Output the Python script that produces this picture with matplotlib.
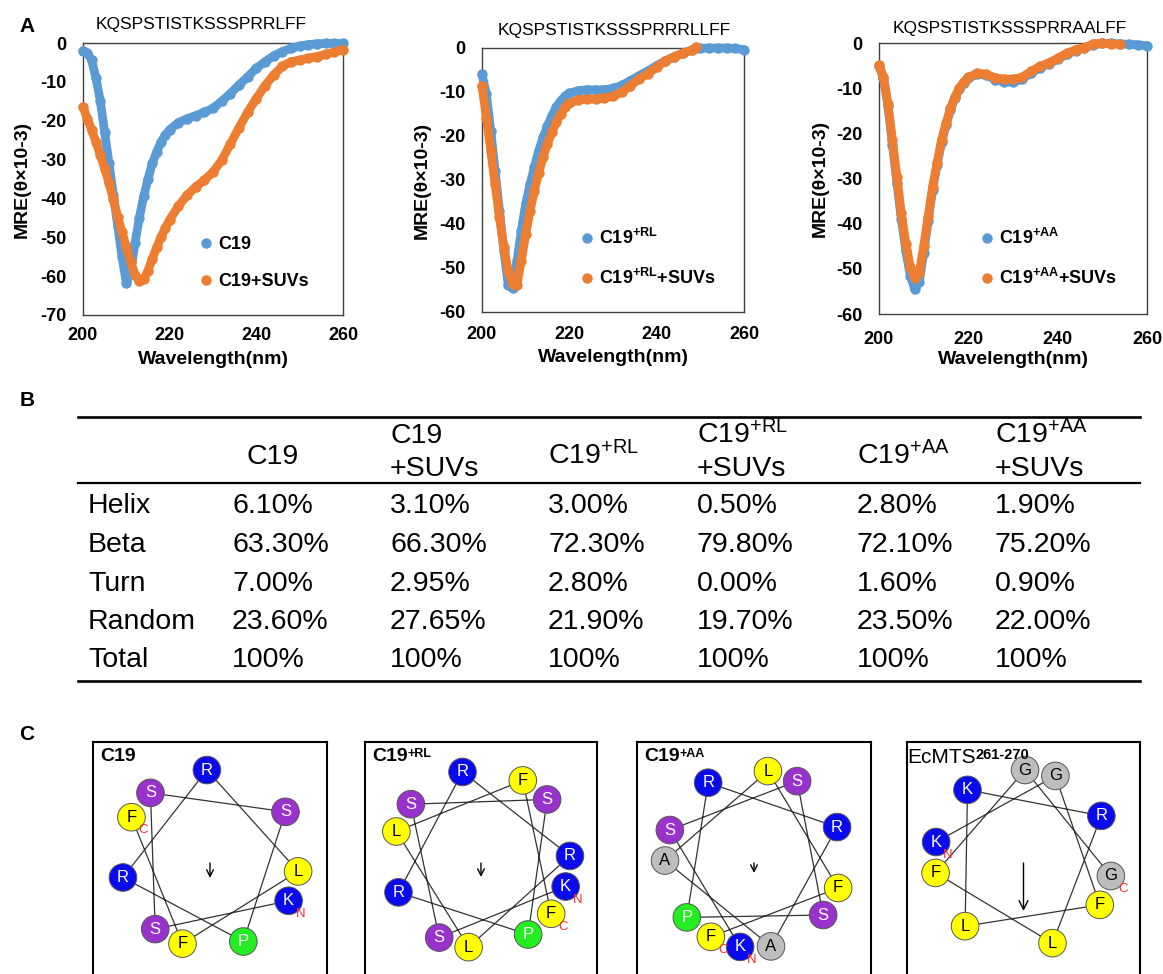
import numpy as np
import matplotlib
matplotlib.use("Agg")
import matplotlib.pyplot as plt
from matplotlib.lines import Line2D
from matplotlib.patches import Circle

plt.rcParams['font.family'] = ['Liberation Sans', 'DejaVu Sans']
plt.rcParams['mathtext.default'] = 'regular'
plt.rcParams['axes.unicode_minus'] = False

# ---------------- Panel A data (CD spectra, MRE x10^-3) ----------------
wl = [200, 201, 202, 203, 204, 205, 206, 207, 208, 209, 210, 211, 212, 213, 214, 215,
      216, 217, 218, 219, 220, 222, 224, 226, 228, 230, 232, 234, 236, 238, 240, 242,
      244, 246, 248, 250, 252, 254, 256, 258, 260]
c19 = [-2.0, -2.5, -4.5, -9.0, -15.0, -23.0, -31.0, -39.0, -47.0, -55.0, -61.8, -59.0,
       -51.5, -45.0, -39.5, -35.0, -31.0, -28.0, -25.5, -23.8, -22.3,
       -20.5, -19.5, -18.7, -17.8, -16.8, -15.0, -13.0, -10.8, -8.7, -6.5, -4.8, -3.3,
       -2.2, -1.4, -0.8, -0.4, -0.2, -0.1, -0.1, -0.1]
c19_suv = [-16.4, -19.5, -22.4, -25.5, -28.8, -32.3, -36.0, -40.2, -44.7, -48.7, -52.4,
           -56.3, -59.7, -61.3, -60.8, -58.6, -55.5, -52.6, -50.0, -47.6, -45.5,
           -42.0, -39.2, -37.0, -35.3, -33.2, -30.2, -26.0, -21.8, -17.8, -14.3, -11.0,
           -8.2, -6.0, -4.8, -4.4, -3.9, -3.5, -2.9, -2.3, -1.7]
rl = [-5.9, -10.5, -18.8, -27.9, -37.0, -46.0, -53.8, -54.6, -48.5, -41.5, -35.5, -31.0,
      -27.0, -23.3, -20.3, -17.7, -15.4, -13.5, -12.0, -11.0, -10.3,
      -9.7, -9.5, -9.5, -9.5, -9.2, -8.5, -7.4, -6.3, -5.2, -4.0, -2.9, -2.0, -1.2,
      -0.5, -0.1, 0.0, 0.0, 0.0, -0.1, -0.4]
wl_rl_suv = [200, 201, 202, 203, 204, 205, 206, 207, 208, 209, 210, 211, 212, 213, 214,
             215, 216, 217, 218, 219, 220, 222, 224, 226, 228, 230, 232, 234, 236, 238,
             240, 242, 244, 246, 248, 249]
rl_suv = [-8.6, -15.8, -23.3, -31.0, -38.5, -45.3, -50.6, -53.6, -53.8, -48.3, -42.3,
          -37.0, -32.4, -28.3, -24.8, -21.8, -19.2, -16.9, -15.0, -13.5, -12.6,
          -11.8, -11.6, -11.6, -11.4, -11.0, -10.0, -8.6, -7.0, -5.8, -4.4, -2.9, -2.0,
          -1.2, -0.5, 0.2]
aa = [-5.2, -7.8, -14.0, -22.5, -31.0, -39.0, -46.0, -51.5, -54.5, -53.0, -46.5, -39.5,
      -32.5, -27.0, -22.0, -18.2, -14.8, -12.2, -10.2, -8.8, -7.8,
      -6.9, -7.1, -8.1, -8.6, -8.7, -8.0, -6.7, -5.5, -4.6, -3.6, -2.5, -1.7, -1.1,
      -0.4, -0.1, -0.1, -0.2, -0.3, -0.4, -0.6]
wl_aa_suv = [200, 201, 202, 203, 204, 205, 206, 207, 208, 209, 210, 211, 212, 213, 214,
             215, 216, 217, 218, 219, 220, 222, 224, 226, 228, 230, 232, 234, 236, 238,
             240, 242, 244, 246, 248, 250, 252, 254]
aa_suv = [-4.9, -7.5, -13.4, -21.5, -29.6, -37.7, -44.4, -49.5, -52.1, -51.0, -45.0,
          -38.5, -31.8, -26.6, -21.5, -17.8, -14.5, -11.9, -10.0, -8.6, -7.6,
          -6.7, -6.9, -7.7, -8.0, -8.0, -7.6, -6.3, -5.2, -4.4, -3.4, -2.3, -1.5, -1.0,
          -0.2, 0.0, -0.2, -0.3]
sequences = ['KQSPSTISTKSSSPRRLFF', 'KQSPSTISTKSSSPRRRLLFF', 'KQSPSTISTKSSSPRRAALFF']
legend_labels = [['C19', 'C19+SUVs'],
                 ['C19$^{+RL}$', 'C19$^{+RL}$+SUVs'],
                 ['C19$^{+AA}$', 'C19$^{+AA}$+SUVs']]

# ---------------- Panel B data (secondary structure, %) ----------------
row_labels = ['Helix', 'Beta', 'Turn', 'Random', 'Total']
col_headers = [['C19'], ['C19', '+SUVs'], ['C19$^{+RL}$'], ['C19$^{+RL}$', '+SUVs'],
               ['C19$^{+AA}$'], ['C19$^{+AA}$', '+SUVs']]
helix = [6.10, 3.10, 3.00, 0.50, 2.80, 1.90]
beta = [63.30, 66.30, 72.30, 79.80, 72.10, 75.20]
turn = [7.00, 2.95, 2.80, 0.00, 1.60, 0.90]
random_coil = [23.60, 27.65, 21.90, 19.70, 23.50, 22.00]
total = [100, 100, 100, 100, 100, 100]

# ---------------- Panel C data (helical wheels) ----------------
wheel_titles = ['C19', 'C19', 'C19', 'EcMTS']
wheel_sup = ['', '+RL', '+AA', '261-270']
wheel_seqs = ['KSSSPRRLFF', 'KSSSPRRRLLFF', 'KSSSPRRAALFF', 'KGFLKRLFGG']
wheel_start_deg = [-28, -18, -99, 169]
wheel_moment = [0.15, 0.14, 0.10, 0.48]

# ---------------- figure ----------------
W, H = 1163, 974
fig = plt.figure(figsize=(W / 100, H / 100), dpi=100)


def px_axes(l, t, r, b):
    return fig.add_axes([l / W, 1 - b / H, (r - l) / W, (b - t) / H])


def ftext(x, y, s, **kw):
    return fig.text(x / W, 1 - y / H, s, **kw)


BLUE = '#5B9BD5'
ORANGE = '#ED7D31'

cd_series = [[(wl, c19), (wl, c19_suv)],
             [(wl, rl), (wl_rl_suv, rl_suv)],
             [(wl, aa), (wl_aa_suv, aa_suv)]]
cd_boxes = [(83, 43, 343, 315), (482, 48, 744, 312), (879, 43, 1147, 314)]
cd_ymin = [-70, -60, -60]
title_xy = [(201, 24), (614, 31), (1010, 28)]
ylab_x = [22, 422, 820]
xlab_y = [360, 358, 360]
leg_xy = [(199, 263), (580, 258), (980, 258)]
xpad = [9, 10, 12]

for k in range(3):
    ax = px_axes(*cd_boxes[k])
    for (x, y), col in zip(cd_series[k], (BLUE, ORANGE)):
        ax.plot(x, y, color=col, lw=6.3, solid_capstyle='round',
                solid_joinstyle='round', clip_on=False, zorder=3)
        ax.plot(x, y, 'o', color=col, ms=7.5, mec='none', clip_on=False, zorder=3)
    ax.set_xlim(200, 260)
    ax.set_ylim(cd_ymin[k], 0)
    ax.set_xticks([200, 220, 240, 260])
    ax.set_yticks(np.arange(cd_ymin[k], 1, 10))
    ax.tick_params(length=0, labelsize=13)
    ax.tick_params(axis='y', pad=12)
    ax.tick_params(axis='x', pad=xpad[k])
    for lab in ax.get_xticklabels() + ax.get_yticklabels():
        lab.set_fontweight('bold')
    for sp in ax.spines.values():
        sp.set_color('#404040')
        sp.set_linewidth(1.0)
    l, t, r, b = cd_boxes[k]
    ftext(title_xy[k][0], title_xy[k][1], sequences[k], ha='center', va='center',
          fontsize=12.5)
    ftext(ylab_x[k], (t + b) / 2, 'MRE(θ×10-3)', rotation=90, ha='center',
          va='center', fontsize=14, fontweight='bold')
    ftext((l + r) / 2, xlab_y[k], 'Wavelength(nm)', ha='center', va='center',
          fontsize=14, fontweight='bold')
    handles = [Line2D([], [], ls='none', marker='o', ms=7.5, color=c, mec='none')
               for c in (BLUE, ORANGE)]
    ax.legend(handles, legend_labels[k], loc='center left',
              bbox_to_anchor=(leg_xy[k][0] / W, 1 - leg_xy[k][1] / H),
              bbox_transform=fig.transFigure, frameon=False,
              prop=dict(weight='bold', size=13), handlelength=0.8,
              handletextpad=0.25, labelspacing=1.1, borderpad=0, borderaxespad=0)

# panel letters
for letter, (x, y) in zip('ABC', [(27, 27), (27, 400), (27, 735)]):
    ftext(x, y, letter, ha='center', va='center', fontsize=15, fontweight='bold')

# ---------------- Panel B table ----------------
tfs = 20.5
col_x = [232, 390, 548, 697, 857, 995]
head_x = [247, 390, 548, 697, 857, 995]
row_base = [513, 552, 591, 629, 667]
rows = [helix, beta, turn, random_coil, total]


def fmt(v):
    return '100%' if v == 100 else f'{v:.2f}%'


for lab, base, vals in zip(row_labels, row_base, rows):
    ftext(88, base, lab, ha='left', va='baseline', fontsize=tfs)
    for x, v in zip(col_x, vals):
        ftext(x, base, fmt(v), ha='left', va='baseline', fontsize=tfs)
for x, lines in zip(head_x, col_headers):
    bases = [464] if len(lines) == 1 else [443, 476]
    for s, bb in zip(lines, bases):
        ftext(x, bb, s, ha='left', va='baseline', fontsize=tfs)
for y, lw in [(417, 1.9), (483, 1.6), (681, 1.9)]:
    fig.add_artist(Line2D([78 / W, 1140 / W], [1 - y / H, 1 - y / H], color='black',
                          lw=lw, transform=fig.transFigure))

# ---------------- Panel C helical wheels ----------------
res_color = {'K': '#0A0AEE', 'R': '#0A0AEE', 'S': '#9932CC', 'F': '#FFFF00',
             'L': '#FFFF00', 'P': '#22EE22', 'A': '#BDBDBD', 'G': '#BDBDBD'}
dark_bg = {'K', 'R', 'S', 'P'}
box_l = [93, 365, 637, 907]
box_r = [327, 597, 871, 1140]
box_t, box_b = 742, 1000
for k in range(4):
    ax = px_axes(box_l[k], box_t, box_r[k], box_b)
    w = box_r[k] - box_l[k]
    h = box_b - box_t
    ax.set_xlim(0, w)
    ax.set_ylim(h, 0)
    ax.set_xticks([])
    ax.set_yticks([])
    for sp in ax.spines.values():
        sp.set_linewidth(1.5)
        sp.set_color('black')
    cx, cy, rad = w / 2, 117, 89
    seq = wheel_seqs[k]
    ang = np.deg2rad(wheel_start_deg[k] - 100 * np.arange(len(seq)))
    xs = cx + rad * np.cos(ang)
    ys = cy - rad * np.sin(ang)
    ax.plot(xs, ys, color='#333333', lw=0.9, zorder=1)
    for aa_, x, y in zip(seq, xs, ys):
        ax.add_patch(Circle((x, y), 13.8, facecolor=res_color[aa_], edgecolor='#555555',
                            lw=0.7, zorder=2))
        ax.text(x, y, aa_, ha='center', va='center', fontsize=12, zorder=3,
                color='white' if aa_ in dark_bg else 'black')
    ax.text(xs[0] + 12, ys[0] + 13, 'N', color='#FF2A2A', fontsize=9.5, ha='center',
            va='center', zorder=4)
    ax.text(xs[-1] + 12, ys[-1] + 13, 'C', color='#FF2A2A', fontsize=9.5, ha='center',
            va='center', zorder=4)
    ax.annotate('', xy=(cx, cy + 4 + 100 * wheel_moment[k]), xytext=(cx, cy + 4),
                arrowprops=dict(arrowstyle='->', lw=1.0, color='black',
                                mutation_scale=12 if k < 3 else 16,
                                shrinkA=0, shrinkB=0))
    if k < 3:
        tt = ax.text(7, 15, wheel_titles[k], ha='left', va='center', fontsize=14,
                     fontweight='bold', zorder=5)
        sup_fs = 9
    else:
        tt = ax.text(0, 16, wheel_titles[k], ha='left', va='center', fontsize=15,
                     zorder=5)
        sup_fs = 10.5
    if wheel_sup[k]:
        ax.annotate(wheel_sup[k], xy=(1.0, 1.0), xycoords=tt, ha='left', va='top',
                    fontsize=sup_fs, fontweight='bold', zorder=5)

fig.savefig('out.png', dpi=100)
